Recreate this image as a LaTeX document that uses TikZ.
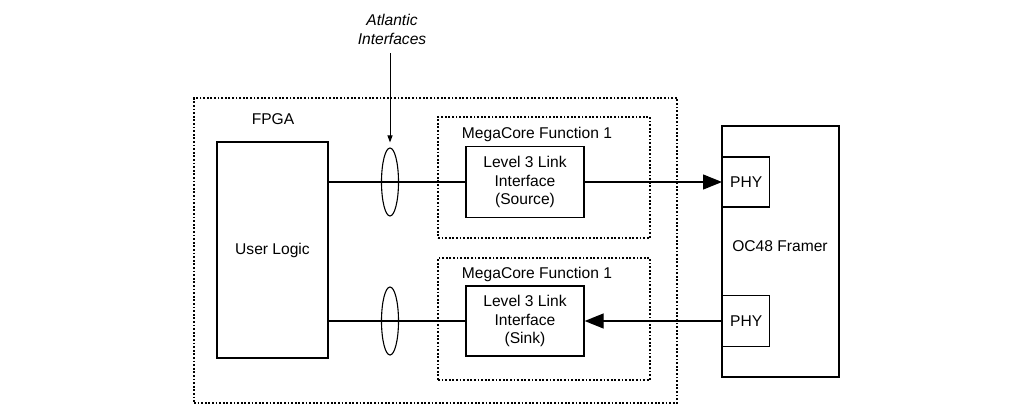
\documentclass[tikz,border=0pt]{standalone}
\usepackage{fontspec}
\setmainfont{Liberation Sans}
\usetikzlibrary{arrows.meta,shapes.geometric}
\begin{document}
\begin{tikzpicture}[x=1pt,y=-1pt,
  font=\fontsize{15.6}{18.5}\selectfont,
  box/.style={draw, line width=1.3pt, inner sep=0pt, align=center},
  dotbox/.style={draw, line width=1.2pt, dash pattern=on 1.8pt off 1.8pt, inner sep=0pt},
  bundle/.style={draw, ellipse, line width=1.1pt, minimum width=17pt, minimum height=68pt, inner sep=0pt},
  wire/.style={line width=1.3pt},
  bigarrow/.style={wire, -{Triangle[length=19pt,width=15pt]}},
  smallarrow/.style={line width=1pt, -{Triangle[length=7pt,width=5pt]}},
  lbl/.style={inner sep=0pt, align=center}]
\useasboundingbox (0,0) rectangle (1018,413);
% dotted containers
\node[dotbox, minimum width=483pt, minimum height=305pt] (fpga) at (435.5,250.5) {};
\node[dotbox, minimum width=212pt, minimum height=121pt] (mc1) at (544,177.5) {};
\node[dotbox, minimum width=212pt, minimum height=122pt] (mc2) at (544,319) {};
% labels
\node[lbl] (fpgalbl) at (273,119) {FPGA};
\node[lbl] (mc1lbl) at (537,134) {MegaCore Function 1};
\node[lbl] (mc2lbl) at (537,274) {MegaCore Function 1};
\node[lbl, font=\fontsize{15.6}{19}\selectfont\itshape] (atl) at (392,29) {Atlantic\\Interfaces};
% solid boxes
\node[box, minimum width=111pt, minimum height=216pt] (ul) at (272.5,250) {User Logic};
\node[box, minimum width=118pt, minimum height=71pt] (src) at (525,182) {Level 3 Link\\Interface\\(Source)};
\node[box, minimum width=118pt, minimum height=70pt] (snk) at (525,321) {Level 3 Link\\Interface\\(Sink)};
\node[box, minimum width=117pt, minimum height=251pt] (oc) at (780.5,251.5) {};
\node[lbl] (oclbl) at (780,246) {OC48 Framer};
\node[box, minimum width=47pt, minimum height=50pt, anchor=west] (phy1) at (722,182) {PHY};
\node[box, minimum width=47pt, minimum height=51pt, anchor=west] (phy2) at (722,321) {PHY};
% bundles
\node[bundle] (e1) at (390,182) {};
\node[bundle] (e2) at (390,321) {};
% connectors
\draw[wire] (ul.east |- src.west) -- (src.west);
\draw[wire] (ul.east |- snk.west) -- (snk.west);
\draw[bigarrow] (src.east) -- (phy1.west);
\draw[bigarrow] (phy2.west) -- (snk.east);
\coordinate (atlend) at (390,53);
\draw[smallarrow] (atlend) -- ([yshift=5pt]e1.north);
\end{tikzpicture}
\end{document}
